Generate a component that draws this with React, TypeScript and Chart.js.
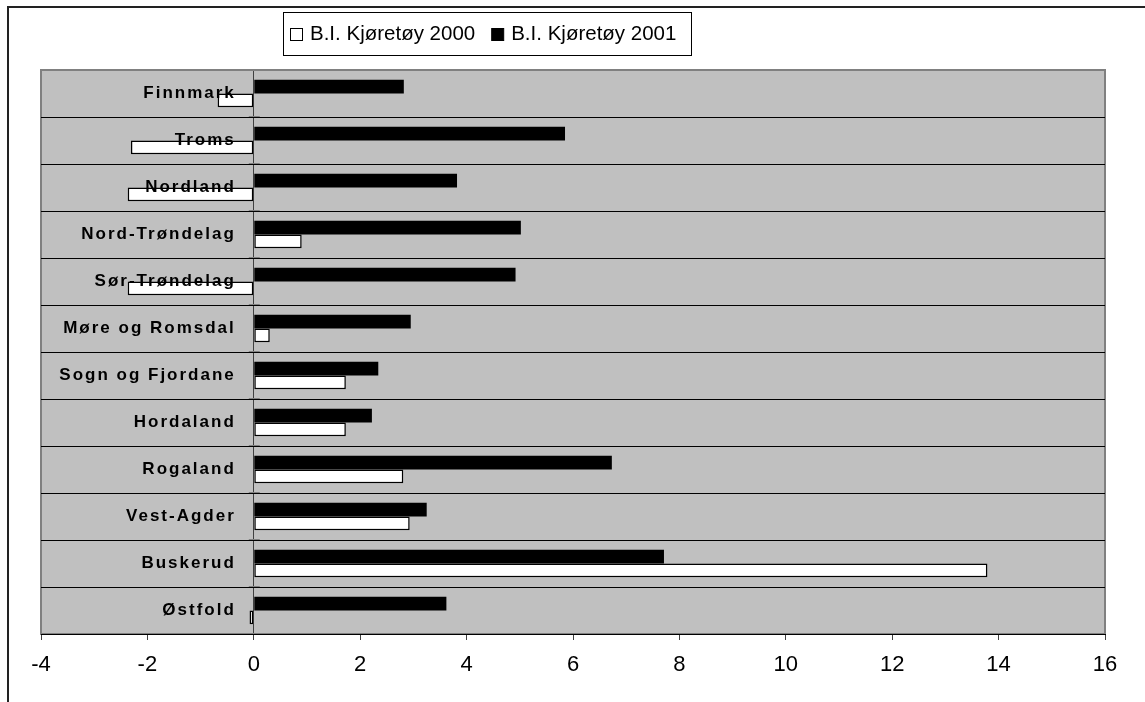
import React, { useEffect, useRef } from "react";
import { Chart, registerables } from "chart.js";

Chart.register(...registerables);

const categories = [
  "Finnmark",
  "Troms",
  "Nordland",
  "Nord-Trøndelag",
  "Sør-Trøndelag",
  "Møre og Romsdal",
  "Sogn og Fjordane",
  "Hordaland",
  "Rogaland",
  "Vest-Agder",
  "Buskerud",
  "Østfold",
];

const values2001 = [2.82, 5.85, 3.82, 5.02, 4.92, 2.95, 2.34, 2.22, 6.73, 3.25, 7.71, 3.62];
const values2000 = [-0.68, -2.31, -2.37, 0.9, -2.37, 0.3, 1.73, 1.73, 2.81, 2.93, 13.79, -0.08];

const label2000 = "B.I. Kjøretøy 2000";
const label2001 = "B.I. Kjøretøy 2001";

const xMin = -4;
const xMax = 16;
const xStep = 2;

const FONT = '"Liberation Sans", Arial, sans-serif';

const framePlugin = {
  id: "framePlugin",
  beforeDraw(chart: any) {
    const { ctx, chartArea } = chart;
    ctx.save();
    ctx.strokeStyle = "#222";
    ctx.lineWidth = 2;
    ctx.beginPath();
    ctx.moveTo(8, 702);
    ctx.lineTo(8, 7);
    ctx.lineTo(1145, 7);
    ctx.stroke();
    ctx.fillStyle = "#C0C0C0";
    ctx.fillRect(chartArea.left, chartArea.top, chartArea.right - chartArea.left, chartArea.bottom - chartArea.top);
    ctx.strokeStyle = "#808080";
    ctx.lineWidth = 2;
    ctx.strokeRect(chartArea.left, chartArea.top, chartArea.right - chartArea.left, chartArea.bottom - chartArea.top);
    ctx.restore();
  },
  afterDatasetsDraw(chart: any) {
    const { ctx, scales } = chart;
    const xs = scales.x;
    const ys = scales.y;
    const x0 = xs.getPixelForValue(0);
    ctx.save();
    ctx.strokeStyle = "#808080";
    ctx.lineWidth = 1;
    const n = chart.data.labels.length;
    for (let i = 0; i <= n; i++) {
      const y = Math.round(ys.getPixelForValue(i - 0.5)) + 0.5;
      ctx.beginPath();
      ctx.moveTo(x0 - 5, y - 1);
      ctx.lineTo(x0 + 6, y - 1);
      ctx.stroke();
    }
    ctx.fillStyle = "#000";
    ctx.font = `bold 17px ${FONT}`;
    (ctx as any).letterSpacing = "2px";
    ctx.textAlign = "right";
    ctx.textBaseline = "middle";
    chart.data.labels.forEach((lab: string, i: number) => {
      const y = ys.getPixelForValue(i);
      ctx.fillText(lab, x0 - 18, y);
    });
    (ctx as any).letterSpacing = "0px";
    ctx.restore();
  },
  afterDraw(chart: any) {
    const { ctx } = chart;
    ctx.save();
    const bx = 283.5, by = 12.5, bw = 408, bh = 43;
    ctx.fillStyle = "#fff";
    ctx.fillRect(bx, by, bw, bh);
    ctx.strokeStyle = "#000";
    ctx.lineWidth = 1;
    ctx.strokeRect(bx, by, bw, bh);
    ctx.font = `20.5px ${FONT}`;
    ctx.textBaseline = "middle";
    ctx.textAlign = "left";
    const items = [chart.data.datasets[1], chart.data.datasets[0]];
    let x = 290;
    const cy = 34;
    items.forEach((ds: any) => {
      ctx.fillStyle = ds.backgroundColor;
      ctx.fillRect(x + 0.5, cy - 6 + 0.5, 12, 12);
      ctx.strokeStyle = "#000";
      ctx.lineWidth = 1;
      ctx.strokeRect(x + 0.5, cy - 6 + 0.5, 12, 12);
      ctx.fillStyle = "#000";
      ctx.fillText(ds.label, x + 20, cy);
      x = x + 20 + ctx.measureText(ds.label).width + 16;
    });
    ctx.restore();
  },
};

export default function App() {
  const ref = useRef<HTMLCanvasElement>(null);

  useEffect(() => {
    if (!ref.current) return;
    const chart = new Chart(ref.current, {
      type: "bar",
      data: {
        labels: categories,
        datasets: [
          {
            label: label2001,
            data: values2001,
            backgroundColor: "#000000",
            borderColor: "#000000",
            borderWidth: 0,
            categoryPercentage: 0.58,
            barPercentage: 1.0,
          },
          {
            label: label2000,
            data: values2000,
            backgroundColor: "#ffffff",
            borderColor: "#000000",
            borderWidth: 1.5,
            borderSkipped: false,
            categoryPercentage: 0.58,
            barPercentage: 1.0,
          },
        ],
      },
      options: {
        indexAxis: "y",
        animation: false,
        responsive: true,
        maintainAspectRatio: false,
        layout: { padding: { left: 41, right: 40, top: 70, bottom: 0 } },
        plugins: {
          legend: { display: false },
          tooltip: { enabled: false },
        },
        scales: {
          x: {
            type: "linear",
            min: xMin,
            max: xMax,
            ticks: {
              stepSize: xStep,
              color: "#000",
              font: { family: FONT, size: 22 },
              padding: 12,
            },
            grid: {
              color: (c: any) => (c.tick && c.tick.value === 0 ? "#404040" : "rgba(0,0,0,0)"),
              tickColor: "#404040",
              tickLength: 6,
              lineWidth: 1,
            },
            border: { display: true, color: "#000", width: 1 },
            afterFit: (s: any) => {
              s.height = 68;
            },
          },
          y: {
            type: "category",
            ticks: { display: false },
            grid: {
              offset: true,
              drawTicks: false,
              color: (c: any) => (c.index === 0 ? "#808080" : "#000"),
              lineWidth: 1,
            },
            border: { display: false },
            afterFit: (s: any) => {
              s.width = 0;
            },
          },
        },
      },
      plugins: [framePlugin],
    });
    return () => chart.destroy();
  }, []);

  return (
    <div style={{ position: "fixed", left: 0, top: 0, width: 1145, height: 702, background: "#fff" }}>
      <canvas ref={ref} />
    </div>
  );
}
